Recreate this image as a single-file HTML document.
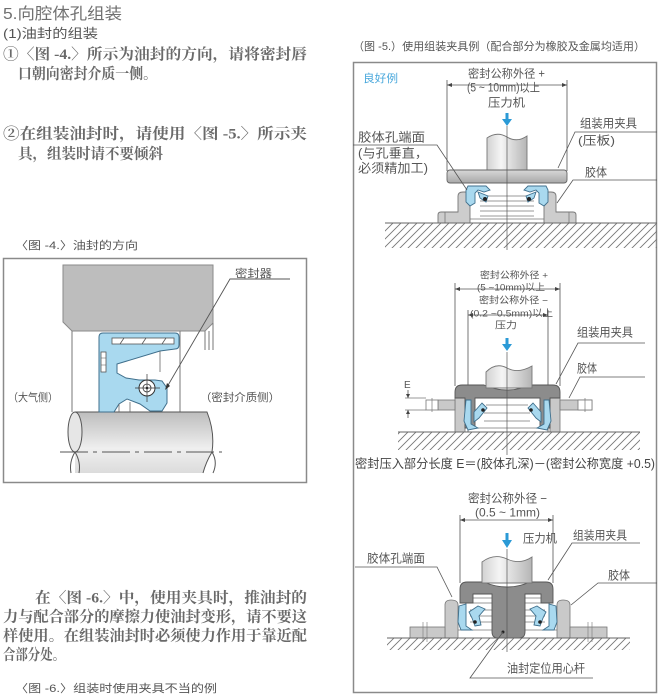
<!DOCTYPE html>
<html><head><meta charset="utf-8">
<style>
html,body{margin:0;padding:0;background:#fff;}
svg{display:block;}
text{font-family:"Liberation Sans","Noto Sans CJK SC",sans-serif;fill:#555;}
.s{font-family:"Liberation Serif","Noto Serif CJK SC",serif;font-weight:bold;fill:#6a6a6a;font-size:15px;}
</style></head><body>
<svg width="663" height="700" viewBox="0 0 663 700" xmlns="http://www.w3.org/2000/svg">
<defs>
<pattern id="h" patternUnits="userSpaceOnUse" width="8" height="8"><path d="M-2,2 L2,-2 M0,8 L8,0 M6,10 L10,6" stroke="#777" stroke-width="0.9"/></pattern>
<linearGradient id="sh" x1="0" y1="0" x2="0" y2="1"><stop offset="0" stop-color="#bdbdbd"/><stop offset="0.6" stop-color="#efefef"/><stop offset="1" stop-color="#dcdcdc"/></linearGradient>
<linearGradient id="cy" x1="0" y1="0" x2="1" y2="0"><stop offset="0" stop-color="#d2d2d2"/><stop offset="0.35" stop-color="#f5f5f5"/><stop offset="1" stop-color="#b5b5b5"/></linearGradient>
<linearGradient id="pl" x1="0" y1="0" x2="0" y2="1"><stop offset="0" stop-color="#d8d8d8"/><stop offset="1" stop-color="#a8a8a8"/></linearGradient>
</defs>

<!-- LEFT TEXT -->
<text x="3" y="19" font-size="16" textLength="119" lengthAdjust="spacingAndGlyphs" style="fill:#707070">5.向腔体孔组装</text>
<text x="3" y="38" font-size="13" textLength="95" lengthAdjust="spacingAndGlyphs">(1)油封的组装</text>
<text class="s" x="3" y="59" textLength="304" lengthAdjust="spacingAndGlyphs">①〈图 -4.〉所示为油封的方向，请将密封唇</text>
<text class="s" x="18" y="78.5" textLength="139" lengthAdjust="spacingAndGlyphs">口朝向密封介质一侧。</text>
<text class="s" x="3" y="138.7" textLength="304" lengthAdjust="spacingAndGlyphs">②在组装油封时，请使用〈图 -5.〉所示夹</text>
<text class="s" x="18" y="158.7" textLength="145" lengthAdjust="spacingAndGlyphs">具，组装时请不要倾斜</text>
<text x="15" y="249" font-size="11" textLength="123" lengthAdjust="spacingAndGlyphs">〈图 -4.〉油封的方向</text>

<text class="s" x="35" y="602.7" textLength="272" lengthAdjust="spacingAndGlyphs">在〈图 -6.〉中，使用夹具时，推油封的</text>
<text class="s" x="3" y="621.7" textLength="304" lengthAdjust="spacingAndGlyphs">力与配合部分的摩擦力使油封变形，请不要这</text>
<text class="s" x="3" y="640.7" textLength="304" lengthAdjust="spacingAndGlyphs">样使用。在组装油封时必须使力作用于靠近配</text>
<text class="s" x="3" y="659.7" textLength="62" lengthAdjust="spacingAndGlyphs">合部分处。</text>
<text x="15" y="692" font-size="11" textLength="202" lengthAdjust="spacingAndGlyphs">〈图 -6.〉组装时使用夹具不当的例</text>

<!-- FIGURE 4 -->
<rect x="3.5" y="258.5" width="303" height="224" fill="#fff" stroke="#8a8a8a" stroke-width="1.5"/>
<path d="M63,265 L213,265 L213,323 L205,331 L72,331 L63,322 Z" fill="#bdbdbd" stroke="#8a8a8a" stroke-width="1"/>
<path d="M72,331 V412 M180,331 V412 M205,331 V350 M209,331 V350 M213,323 V350" stroke="#777" stroke-width="1" fill="none"/>
<!-- shaft -->
<path d="M75,412 L207,412 Q215,432 212,452 Q206,462 203,473 L75,473 Z" fill="url(#sh)"/>
<path d="M75,412 H207 Q215,432 212,452 Q206,462 203,473 M212,452 Q218,462 213,473" stroke="#555" fill="none" stroke-width="1"/>
<ellipse cx="75" cy="432" rx="7" ry="20" fill="#e6e6e6" stroke="#555" stroke-width="1"/>
<path d="M75,452 Q69,462 71,473 M75,452 Q81,462 79,473" stroke="#555" fill="none"/>
<path d="M60,452 H222" stroke="#555" stroke-width="1" stroke-dasharray="28,5,4,5"/>
<!-- seal -->
<path d="M99,337 Q99,333 103,333 L175,333 Q179,333 179,337 L179,345 Q179,349 175,349 L160,351 L117,364 L117,373 L126,378 L139,380 L155,380 L162,381 L167,388 L167,403 L162,411 L150,411 L140,404 L127,399 L119,404 L114,412 L99,412 Z" fill="#a9d9ef" stroke="#3f6f8c" stroke-width="1"/>
<rect x="112" y="338" width="62" height="6" fill="#fff" stroke="#555" stroke-width="0.8"/>
<path d="M120,344 L124,338 M142,344 L146,338 M162,344 L166,338" stroke="#555" stroke-width="0.8"/>
<rect x="101" y="352" width="5" height="20" fill="#fff" stroke="#555" stroke-width="0.8"/>
<path d="M101,358 H106 M101,365 H106" stroke="#555" stroke-width="0.6"/>
<path d="M160,351 V372 M119,404 V412 M130,402 V412" stroke="#666" stroke-width="0.8"/>
<circle cx="147" cy="388" r="8" fill="#fff" stroke="#333" stroke-width="1"/>
<circle cx="147" cy="388" r="4" fill="none" stroke="#333" stroke-width="0.8"/>
<circle cx="147" cy="388" r="1.3" fill="#222"/>
<path d="M147,374 V402 M135,388 H160" stroke="#333" stroke-width="0.7"/>
<!-- labels -->
<text x="235" y="277" font-size="11" textLength="37" lengthAdjust="spacingAndGlyphs">密封器</text>
<path d="M290,279 H230 L167,387" stroke="#555" stroke-width="0.9" fill="none"/>
<path d="M165,390 L167,383 L170,386 Z" fill="#333"/>
<text x="8" y="401" font-size="11" textLength="50" lengthAdjust="spacingAndGlyphs">（大气侧）</text>
<text x="200" y="401" font-size="11" textLength="80" lengthAdjust="spacingAndGlyphs">（密封介质侧）</text>

<!-- FIGURE 5 -->
<text x="353" y="50" font-size="11" textLength="292" lengthAdjust="spacingAndGlyphs">（图 -5.）使用组装夹具例（配合部分为橡胶及金属均适用）</text>
<rect x="353.5" y="62.5" width="303" height="630" fill="#fff" stroke="#8a8a8a" stroke-width="1.5"/>
<text x="363" y="82" font-size="11" textLength="35" lengthAdjust="spacingAndGlyphs" style="fill:#4aa8dc">良好例</text>

<!-- section 1 -->
<text x="468" y="77.5" font-size="11.5" textLength="77" lengthAdjust="spacingAndGlyphs">密封公称外径 +</text>
<text x="467" y="91.5" font-size="11.5" textLength="73" lengthAdjust="spacingAndGlyphs">(5 ~ 10mm)以上</text>
<text x="488" y="106.5" font-size="11.5" textLength="37" lengthAdjust="spacingAndGlyphs">压力机</text>
<path d="M447,80 V171 M567,80 V171 M447,85 H567" stroke="#555" stroke-width="0.8" fill="none"/>
<path d="M447,85 l5,-2 v4 z M567,85 l-5,-2 v4 z" fill="#444"/>
<path d="M505.5,113 h3 v6 h3.5 l-5,7 l-5,-7 h3.5 z" fill="#2b9ad6"/>
<!-- housing -->
<path d="M458,212 L458,196 Q458,192 463,192 L470,192 L470,223 L438,223 L438,215 Q438,212 441,212 Z" fill="#cdcdcd" stroke="#777" stroke-width="0.9"/>
<path d="M556,212 L556,196 Q556,192 551,192 L544,192 L544,223 L576,223 L576,215 Q576,212 573,212 Z" fill="#cdcdcd" stroke="#777" stroke-width="0.9"/>
<path d="M445,212 V223 M569,212 V223" stroke="#777" stroke-width="0.8"/>
<path d="M483,196 H531 M480,201 H534 M480,206 H534 M480,211 H534 M480,216 H534 M470,219 H544" stroke="#777" stroke-width="0.8"/>
<!-- seals -->
<g fill="#a9d9ef" stroke="#3f6f8c" stroke-width="0.9">
<path d="M468,186 L486,186 L490,190 L484,192 L478,190 L475,193 L475,203 L470,206 L466,202 L466,190 Z"/>
<path d="M478,192 L488,196 L486,202 L480,198 Z"/>
<path d="M546,186 L528,186 L524,190 L530,192 L536,190 L539,193 L539,203 L544,206 L548,202 L548,190 Z"/>
<path d="M536,192 L526,196 L528,202 L534,198 Z"/>
</g>
<circle cx="485" cy="199" r="2" fill="#222"/><circle cx="529" cy="199" r="2" fill="#222"/>
<!-- shaft & plate -->
<path d="M487,138 Q497,131 507,137 Q517,143 527,136 L527,171 L487,171 Z" fill="url(#cy)" stroke="#777" stroke-width="0.9"/>
<rect x="447" y="170" width="120" height="13" rx="3" fill="url(#pl)" stroke="#666" stroke-width="0.9"/>
<!-- ground -->
<rect x="385" y="223" width="272" height="25" fill="url(#h)"/>
<path d="M385,223 H657" stroke="#666" stroke-width="0.9"/>
<path d="M507,126 V250" stroke="#555" stroke-width="0.7"/>
<!-- labels -->
<text x="358" y="141.5" font-size="12.5" textLength="67" lengthAdjust="spacingAndGlyphs">胶体孔端面</text>
<text x="358" y="157.5" font-size="12.5" textLength="70" lengthAdjust="spacingAndGlyphs">(与孔垂直，</text>
<text x="358" y="172.5" font-size="12.5" textLength="70" lengthAdjust="spacingAndGlyphs">必须精加工)</text>
<path d="M353,145 H437 L467,190" stroke="#555" stroke-width="0.8" fill="none"/>
<text x="580" y="127.5" font-size="12" textLength="57" lengthAdjust="spacingAndGlyphs">组装用夹具</text>
<text x="578" y="144.5" font-size="12" textLength="37" lengthAdjust="spacingAndGlyphs">(压板)</text>
<text x="585" y="176.5" font-size="12" textLength="22" lengthAdjust="spacingAndGlyphs">胶体</text>
<path d="M657,132 H575 L558,168 M657,180 H573 L557,203" stroke="#555" stroke-width="0.8" fill="none"/>

<!-- section 2 -->
<text x="480" y="278.6" font-size="9.5" textLength="68" lengthAdjust="spacingAndGlyphs">密封公称外径 +</text>
<text x="477" y="290.6" font-size="9.5" textLength="68" lengthAdjust="spacingAndGlyphs">(5 ~10mm)以上</text>
<text x="479" y="303.6" font-size="9.5" textLength="69" lengthAdjust="spacingAndGlyphs">密封公称外径 −</text>
<text x="470" y="316.6" font-size="9.5" textLength="83" lengthAdjust="spacingAndGlyphs">(0.2 ~0.5mm)以上</text>
<text x="495" y="328.6" font-size="9.5" textLength="22" lengthAdjust="spacingAndGlyphs">压力</text>
<path d="M455,283 V386 M560,283 V386 M468,310 V432 M548,310 V432 M455,289 H560 M468,315 H548" stroke="#555" stroke-width="0.8" fill="none"/>
<path d="M455,289 l5,-2 v4 z M560,289 l-5,-2 v4 z M468,315 l5,-2 v4 z M548,315 l-5,-2 v4 z" fill="#444"/>
<path d="M505.5,338 h3 v6 h3.5 l-5,7 l-5,-7 h3.5 z" fill="#2b9ad6"/>
<!-- housing -->
<rect x="455" y="398" width="10" height="34" fill="#c9c9c9" stroke="#777" stroke-width="0.8"/>
<rect x="550" y="398" width="10" height="34" fill="#c9c9c9" stroke="#777" stroke-width="0.8"/>
<rect x="438" y="400" width="17" height="10" fill="#c9c9c9" stroke="#777" stroke-width="0.8"/>
<rect x="560" y="400" width="32" height="10" fill="#c9c9c9" stroke="#777" stroke-width="0.8"/>
<rect x="426" y="400" width="12" height="10" fill="#fff" stroke="#777" stroke-width="0.8"/>
<rect x="578" y="400" width="14" height="10" fill="#fff" stroke="#777" stroke-width="0.8"/>
<path d="M432,398 V412 M585,398 V412 M405,398 H426 M405,410 H426" stroke="#777" stroke-width="0.7"/>
<path d="M408,390 V398 M408,410 V418" stroke="#555" stroke-width="0.8"/>
<path d="M408,398 l-2,-4 h4 z M408,410 l-2,4 h4 z" fill="#444"/>
<text x="404" y="388" font-size="10">E</text>
<!-- jig -->
<path d="M455,392 Q455,385 462,385 L484,385 Q495,390 507,390 Q519,390 530,385 L553,385 Q560,385 560,392 L560,398 L550,398 L550,428 L540,428 L540,398 L475,398 L475,428 L465,428 L465,398 L455,398 Z" fill="#8c8c8c" stroke="#555" stroke-width="0.9"/>
<path d="M486,405 H528 M484,413 H530 M484,421 H530 M475,428 H540" stroke="#777" stroke-width="0.8"/>
<g fill="#a9d9ef" stroke="#3f6f8c" stroke-width="0.9">
<path d="M466,400 L471,400 L471,424 L478,428 L468,430 L464,421 Z"/>
<path d="M474,412 L482,403 L487,408 L479,418 L474,422 Z"/>
<path d="M549,400 L544,400 L544,424 L537,428 L547,430 L551,421 Z"/>
<path d="M541,412 L533,403 L528,408 L536,418 L541,422 Z"/>
</g>
<circle cx="483" cy="410" r="1.8" fill="#222"/><circle cx="531" cy="410" r="1.8" fill="#222"/>
<path d="M486,372 Q496,362 507,368 Q518,374 532,366 L532,388 L486,388 Z" fill="url(#cy)" stroke="#777" stroke-width="0.9"/>
<rect x="398" y="432" width="242" height="18" fill="url(#h)"/>
<path d="M398,432 H640" stroke="#666" stroke-width="0.9"/>
<path d="M507,352 V455" stroke="#555" stroke-width="0.7"/>
<text x="577" y="336.5" font-size="12" textLength="56" lengthAdjust="spacingAndGlyphs">组装用夹具</text>
<text x="577" y="372.5" font-size="12" textLength="20" lengthAdjust="spacingAndGlyphs">胶体</text>
<path d="M645,343 H578 L556,384 M645,377 H580 L569,398" stroke="#555" stroke-width="0.8" fill="none"/>
<text x="355" y="468" font-size="12.5" textLength="300" lengthAdjust="spacingAndGlyphs" style="fill:#444">密封压入部分长度 E＝(胶体孔深)－(密封公称宽度 +0.5)</text>

<!-- section 3 -->
<text x="468" y="502.5" font-size="12" textLength="79" lengthAdjust="spacingAndGlyphs">密封公称外径 −</text>
<text x="475" y="516.5" font-size="12" textLength="65" lengthAdjust="spacingAndGlyphs">(0.5 ~ 1mm)</text>
<path d="M460,515 V583 M553,515 V583 M460,520 H553" stroke="#555" stroke-width="0.8" fill="none"/>
<path d="M460,520 l5,-2 v4 z M553,520 l-5,-2 v4 z" fill="#444"/>
<path d="M505.5,533 h3 v7 h3.5 l-5,8 l-5,-8 h3.5 z" fill="#2b9ad6"/>
<text x="523" y="542.5" font-size="12" textLength="34" lengthAdjust="spacingAndGlyphs">压力机</text>
<text x="573" y="539.5" font-size="12" textLength="54" lengthAdjust="spacingAndGlyphs">组装用夹具</text>
<text x="367" y="562.5" font-size="12" textLength="58" lengthAdjust="spacingAndGlyphs">胶体孔端面</text>
<text x="608" y="579.5" font-size="12" textLength="22" lengthAdjust="spacingAndGlyphs">胶体</text>
<!-- housing -->
<path d="M445,638 L445,605 Q445,600 451,600 Q458,600 458,605 L458,638 Z" fill="#c9c9c9" stroke="#777" stroke-width="0.8"/>
<path d="M557,638 L557,605 Q557,600 563,600 Q570,600 570,605 L570,638 Z" fill="#c9c9c9" stroke="#777" stroke-width="0.8"/>
<rect x="410" y="627" width="35" height="11" fill="#c9c9c9" stroke="#777" stroke-width="0.8"/>
<rect x="570" y="627" width="37" height="11" fill="#c9c9c9" stroke="#777" stroke-width="0.8"/>
<path d="M423,622 V642 M427,622 V642 M588,622 V642 M592,622 V642" stroke="#777" stroke-width="0.6"/>
<path d="M473,598 H492 M473,603 H492 M525,598 H541 M525,603 H541 M470,610 H492 M470,616 H492 M470,622 H492 M525,610 H545 M525,616 H545 M525,622 H545 M458,630 H557" stroke="#777" stroke-width="0.7"/>
<!-- jig -->
<path d="M460,589 Q460,582 467,582 L484,582 Q495,587 507,587 Q519,587 530,582 L546,582 Q553,582 553,589 L553,603 L541,603 L541,594 L525,594 L525,632 Q525,638 519,638 L498,638 Q492,638 492,632 L492,594 L473,594 L473,603 L460,603 Z" fill="#8c8c8c" stroke="#555" stroke-width="0.9"/>
<g fill="#a9d9ef" stroke="#3f6f8c" stroke-width="0.9">
<path d="M459,606 L466,604 L466,626 L472,630 L461,630 L458,622 Z"/>
<path d="M469,612 L478,606 L485,609 L479,616 L481,625 L475,626 L472,618 Z"/>
<path d="M556,606 L549,604 L549,626 L543,630 L554,630 L557,622 Z"/>
<path d="M546,612 L537,606 L530,609 L536,616 L534,625 L540,626 L543,618 Z"/>
</g>
<circle cx="475" cy="622" r="1.8" fill="#222"/><circle cx="540" cy="622" r="1.8" fill="#222"/>
<path d="M482,562 Q494,553 507,559 Q520,565 532,557 L532,583 L482,583 Z" fill="url(#cy)" stroke="#777" stroke-width="0.9"/>
<rect x="387" y="638" width="243" height="12" fill="url(#h)"/>
<path d="M387,638 H630" stroke="#666" stroke-width="0.9"/>
<path d="M507,549 V652" stroke="#555" stroke-width="0.7"/>
<circle cx="503" cy="632" r="1.5" fill="#222"/>
<path d="M355,567 H437 L452,597 M640,543 H572 L548,580 M657,583 H598 L571,605 M593,678 H470 L503,632" stroke="#555" stroke-width="0.8" fill="none"/>
<text x="507" y="672.5" font-size="12" textLength="78" lengthAdjust="spacingAndGlyphs">油封定位用心杆</text>
</svg>
</body></html>
